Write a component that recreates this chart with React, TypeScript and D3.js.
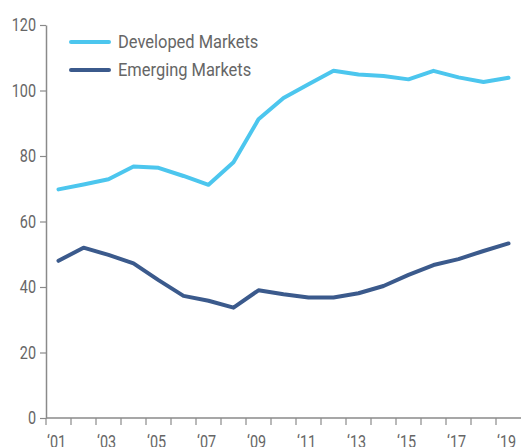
import React, { useRef, useEffect } from 'react';
import * as d3 from 'd3';

const years = [2001, 2002, 2003, 2004, 2005, 2006, 2007, 2008, 2009, 2010, 2011, 2012, 2013, 2014, 2015, 2016, 2017, 2018, 2019];
const developed = [69.8, 71.3, 72.9, 76.8, 76.4, 73.9, 71.2, 78.1, 91.2, 97.7, 101.9, 106.0, 104.9, 104.4, 103.4, 106.0, 104.0, 102.6, 103.9];
const emerging = [48.0, 52.0, 49.8, 47.2, 42.1, 37.3, 35.8, 33.7, 39.0, 37.8, 36.8, 36.8, 38.1, 40.3, 43.7, 46.7, 48.5, 51.0, 53.3];
const yTicks = [0, 20, 40, 60, 80, 100, 120];
const seriesNames = ['Developed Markets', 'Emerging Markets'];
const seriesColors = ['#4cc6ee', '#3b5a8c'];

const W = 521;
const H = 447;
const FONT = 'Roboto, sans-serif';

// squeeze Roboto to look like the condensed face of the original
function condense(sel: d3.Selection<any, any, any, any>, k: number) {
  sel.each(function () {
    const t = this as SVGTextElement;
    const len = t.getComputedTextLength();
    if (len > 0) {
      t.setAttribute('textLength', String(len * k));
      t.setAttribute('lengthAdjust', 'spacingAndGlyphs');
    }
  });
}

export default function App() {
  const ref = useRef<SVGSVGElement>(null);

  useEffect(() => {
    const svg = d3.select(ref.current);
    svg.selectAll('*').remove();

    const x = d3.scaleBand<number>().domain(years).range([46, 521]);
    const y = d3.scaleLinear().domain([0, 120]).range([418, 25]);

    // y axis
    const yAxis = svg.append('g').attr('transform', 'translate(46,0)')
      .call(d3.axisLeft(y).tickValues(yTicks).tickSize(6).tickPadding(4).tickSizeOuter(0));
    yAxis.select('.domain').attr('stroke', '#8a8a8a').attr('stroke-width', 1.5);
    yAxis.selectAll('.tick line').attr('stroke', '#8a8a8a').attr('stroke-width', 1.2);
    const yLabels = yAxis.selectAll('.tick text')
      .attr('fill', '#666').attr('font-size', 18).attr('font-family', FONT);
    condense(yLabels, 0.8);

    // x axis: ticks at band starts, label every other year
    const xg = svg.append('g');
    xg.append('line')
      .attr('x1', 46).attr('x2', W).attr('y1', y(0)).attr('y2', y(0))
      .attr('stroke', '#8a8a8a').attr('stroke-width', 1.5);
    xg.selectAll('line.tick').data(years).enter().append('line')
      .attr('class', 'tick')
      .attr('x1', d => x(d)!).attr('x2', d => x(d)!)
      .attr('y1', y(0)).attr('y2', y(0) + 7)
      .attr('stroke', '#8a8a8a').attr('stroke-width', 1.2);
    const xLabels = xg.selectAll('text').data(years.filter((d, i) => i % 2 === 0)).enter().append('text')
      .attr('x', d => x(d)! + 1)
      .attr('y', 448)
      .attr('fill', '#666').attr('font-size', 18).attr('font-family', FONT)
      .text(d => '\u2018' + String(d).slice(2));
    condense(xLabels, 0.8);

    const line = d3.line<number>()
      .x((d, i) => x(years[i])! + x.bandwidth() / 2)
      .y(d => y(d));

    [developed, emerging].forEach((s, i) => {
      svg.append('path')
        .datum(s)
        .attr('d', line)
        .attr('fill', 'none')
        .attr('stroke', seriesColors[i])
        .attr('stroke-width', 4)
        .attr('stroke-linejoin', 'round')
        .attr('stroke-linecap', 'round');
    });

    // legend
    const lg = svg.append('g');
    seriesNames.forEach((name, i) => {
      const ly = 42 + i * 28;
      lg.append('line')
        .attr('x1', 71).attr('x2', 109).attr('y1', ly).attr('y2', ly)
        .attr('stroke', seriesColors[i]).attr('stroke-width', 4).attr('stroke-linecap', 'round');
      const t = lg.append('text')
        .attr('x', 118).attr('y', ly).attr('dy', '0.35em')
        .attr('fill', '#666').attr('font-size', 17.5).attr('font-family', FONT)
        .text(name);
      condense(t, 0.94);
    });
  }, []);

  return (
    <svg ref={ref} width={W} height={H}
      style={{ position: 'absolute', left: 0, top: 0, display: 'block' }} />
  );
}
